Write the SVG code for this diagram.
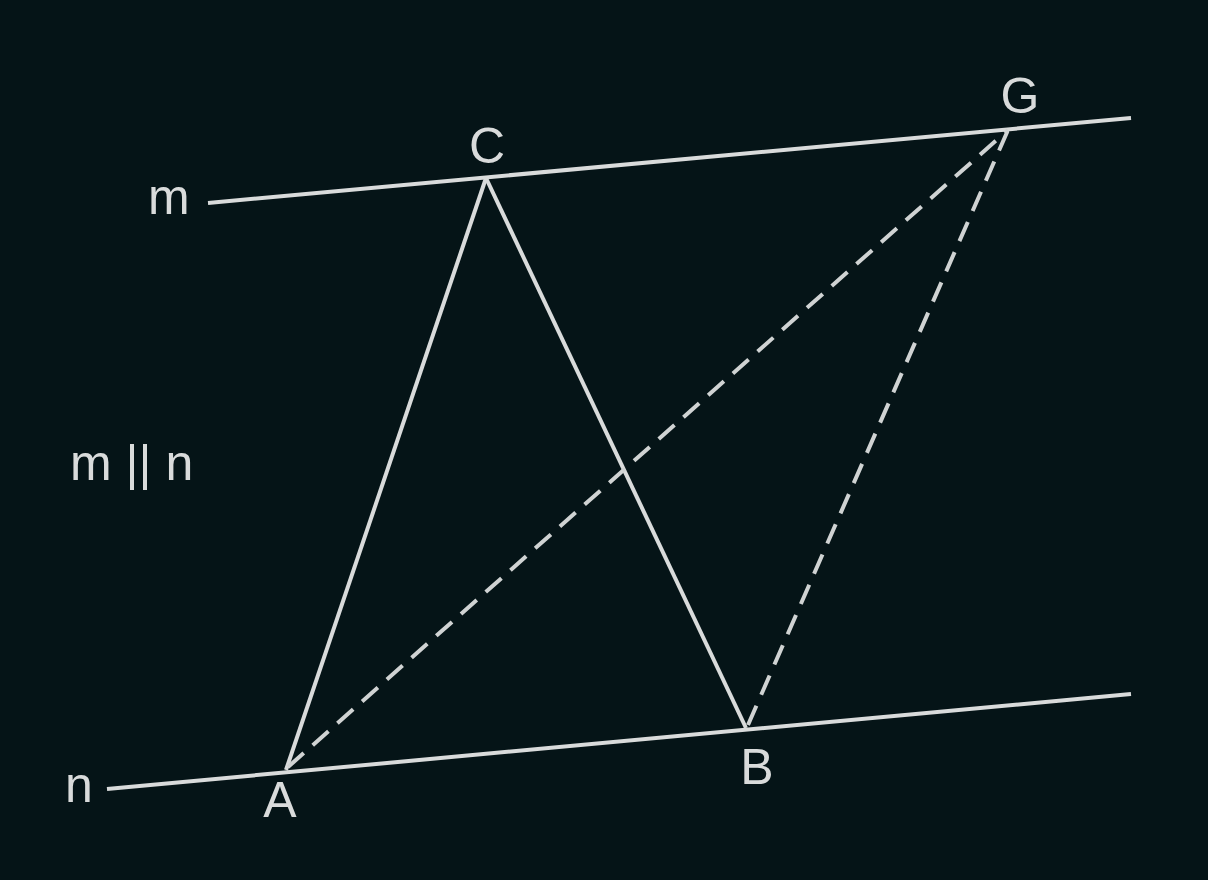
<svg xmlns="http://www.w3.org/2000/svg" width="1208" height="880" viewBox="0 0 1208 880">
<style>
.ln{stroke:#d9dbdb;stroke-width:4;fill:none;stroke-linecap:butt}
.ds{stroke:#d0d3d3;stroke-width:4;fill:none;stroke-dasharray:21 12}
.lb{font-family:"Liberation Sans",Arial,sans-serif;font-size:50px;fill:#d9dbdb}
</style>
<rect width="1208" height="880" fill="#051417"/>
<g id="connectors">
<line id="line-m" class="ln" x1="208" y1="203" x2="1131" y2="118"/>
<line id="line-n" class="ln" x1="107" y1="789" x2="1131" y2="694"/>
<line id="AC" class="ln" x1="286" y1="770" x2="486" y2="178"/>
<line id="CB" class="ln" x1="486" y1="178" x2="746" y2="728"/>
<line id="AG" class="ds" x1="288" y1="767" x2="1008" y2="130"/>
<line id="BG" class="ds" x1="748" y1="725" x2="1008" y2="130"/>
</g>
<g id="label-m"><text class="lb" x="148" y="214">m</text></g>
<g id="label-n"><text class="lb" x="65" y="802">n</text></g>
<g id="node-C"><text class="lb" x="487" y="163" text-anchor="middle">C</text></g>
<g id="node-G"><text class="lb" x="1020" y="113" text-anchor="middle">G</text></g>
<g id="node-A"><text class="lb" x="280" y="817" text-anchor="middle">A</text></g>
<g id="node-B"><text class="lb" x="757" y="784" text-anchor="middle">B</text></g>
<g id="label-parallel"><text class="lb" x="70" y="480">m || n</text></g>
</svg>
